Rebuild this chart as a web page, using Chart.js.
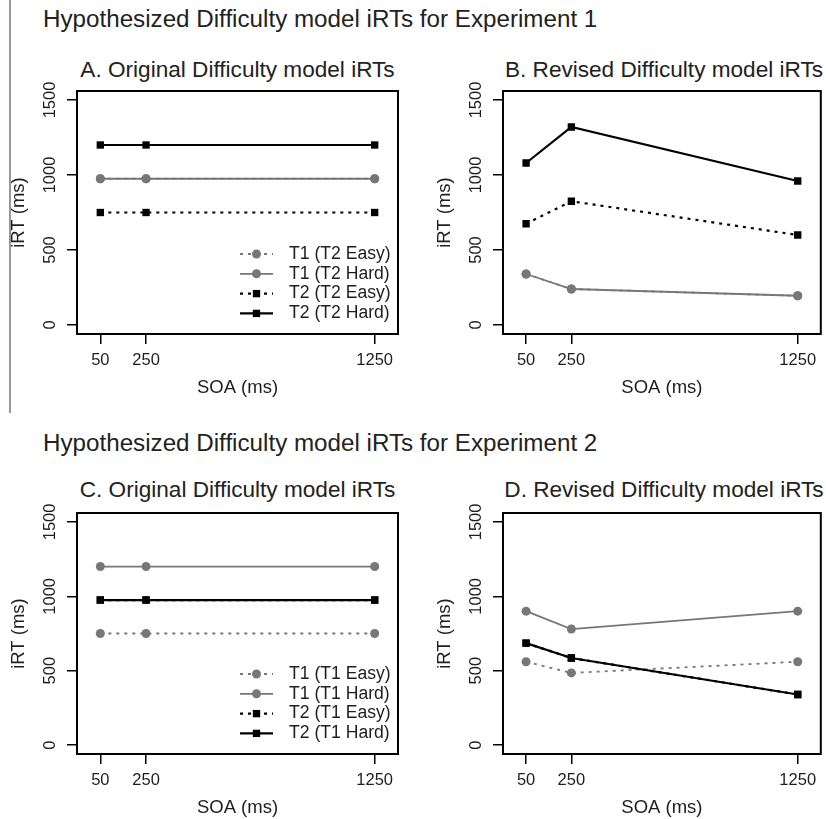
<!DOCTYPE html>
<html>
<head>
<meta charset="utf-8">
<script src="https://cdn.jsdelivr.net/npm/chart.js@4.4.1/dist/chart.umd.min.js"></script>
<style>
  body { margin: 0; background: #fff; width: 826px; height: 819px; position: relative; overflow: hidden;
         font-family: "Liberation Sans", Arial, sans-serif; color: #222; }
  .main { position: absolute; left: 43px; font-size: 24.2px; line-height: 28px; white-space: nowrap; }
  .sub { position: absolute; font-size: 22.6px; line-height: 26px; text-align: center; white-space: nowrap; }
  canvas { position: absolute; }
  #edge { position: absolute; left: 9px; top: 0; width: 2px; height: 413px; background: #999; }
</style>
</head>
<body>
<div id="edge"></div>
<div class="main" style="top:5px">Hypothesized Difficulty model iRTs for Experiment 1</div>
<div class="main" style="top:429px">Hypothesized Difficulty model iRTs for Experiment 2</div>
<div class="sub" style="left:77px;width:321px;top:57px">A. Original Difficulty model iRTs</div>
<div class="sub" style="left:503px;width:322px;top:57px">B. Revised Difficulty model iRTs</div>
<div class="sub" style="left:77px;width:321px;top:477px">C. Original Difficulty model iRTs</div>
<div class="sub" style="left:503px;width:322px;top:477px">D. Revised Difficulty model iRTs</div>

<canvas id="chartA" width="410" height="324" style="left:0;top:75px"></canvas>
<canvas id="chartB" width="400" height="324" style="left:426px;top:75px"></canvas>
<canvas id="chartC" width="410" height="322" style="left:0;top:497px"></canvas>
<canvas id="chartD" width="400" height="322" style="left:426px;top:497px"></canvas>

<script>
// SOA conditions (x) and axis ticks
const soa = [50, 250, 1250];
const yTicks = [0, 500, 1000, 1500];

// legend labels
const exp1Labels = ['T1 (T2 Easy)', 'T1 (T2 Hard)', 'T2 (T2 Easy)', 'T2 (T2 Hard)'];
const exp2Labels = ['T1 (T1 Easy)', 'T1 (T1 Hard)', 'T2 (T1 Easy)', 'T2 (T1 Hard)'];

// A. Experiment 1, original model
const aT1Easy = [975, 975, 975];
const aT1Hard = [975, 975, 975];
const aT2Easy = [750, 750, 750];
const aT2Hard = [1200, 1200, 1200];

// B. Experiment 1, revised model
const bT1Easy = [340, 240, 195];
const bT1Hard = [340, 240, 195];
const bT2Easy = [675, 825, 600];
const bT2Hard = [1080, 1320, 960];

// C. Experiment 2, original model
const cT1Easy = [750, 750, 750];
const cT1Hard = [1200, 1200, 1200];
const cT2Easy = [975, 975, 975];
const cT2Hard = [975, 975, 975];

// D. Experiment 2, revised model
const dT1Easy = [560, 485, 560];
const dT1Hard = [900, 780, 900];
const dT2Easy = [685, 585, 340];
const dT2Hard = [685, 585, 340];

const GRAY = '#777';
const INK = '#1e1e1e';
const FONT = '"Liberation Sans", Arial, sans-serif';

// line look per series (order: lower = drawn on top)
const looks = [
  { color: GRAY, dash: [3, 5], width: 1.8, point: 'circle', radius: 4.5, order: 3 },
  { color: GRAY, dash: [], width: 1.8, point: 'circle', radius: 4.5, order: 2 },
  { color: '#000', dash: [3, 5], width: 2.2, point: 'rect', radius: 5.2, order: 1 },
  { color: '#000', dash: [], width: 2.2, point: 'rect', radius: 5.2, order: 0 }
];

function makeDatasets(labels, series) {
  return series.map((vals, i) => {
    const lk = looks[i];
    return {
      label: labels[i],
      data: soa.map((x, j) => ({ x: x, y: vals[j] })),
      borderColor: lk.color,
      backgroundColor: lk.color,
      borderDash: lk.dash,
      borderWidth: lk.width,
      pointStyle: lk.point,
      pointRadius: lk.radius,
      pointBorderWidth: 0,
      pointBackgroundColor: lk.color,
      order: lk.order,
      tension: 0
    };
  });
}

// box around the plot, rotated y tick labels (R style) and legend inside plot
const framePlugin = {
  id: 'frame',
  afterDraw(chart, args, opts) {
    const ctx = chart.ctx;
    const a = chart.chartArea;
    ctx.save();
    ctx.strokeStyle = '#000';
    ctx.lineWidth = 2;
    ctx.strokeRect(a.left, a.top, a.right - a.left, a.bottom - a.top);

    const ys = chart.scales.y;
    ctx.font = '16.5px ' + FONT;
    ctx.fillStyle = INK;
    ctx.textAlign = 'center';
    ctx.textBaseline = 'middle';
    ys.ticks.forEach(t => {
      ctx.save();
      ctx.translate(a.left - 27, ys.getPixelForValue(t.value));
      ctx.rotate(-Math.PI / 2);
      ctx.fillText(String(t.value), 0, 0);
      ctx.restore();
    });

    if (opts.show) {
      ctx.font = '17.6px ' + FONT;
      ctx.textAlign = 'left';
      chart.data.datasets.forEach((ds, i) => {
        const y = a.bottom - 80 + i * 19.8;
        const x0 = a.right - 158, x1 = a.right - 125, cx = (x0 + x1) / 2;
        ctx.strokeStyle = ds.borderColor;
        ctx.lineWidth = ds.borderWidth;
        ctx.setLineDash(ds.borderDash);
        ctx.beginPath();
        ctx.moveTo(x0, y);
        ctx.lineTo(x1, y);
        ctx.stroke();
        ctx.setLineDash([]);
        ctx.fillStyle = ds.borderColor;
        if (ds.pointStyle === 'circle') {
          ctx.beginPath();
          ctx.arc(cx, y, ds.pointRadius, 0, Math.PI * 2);
          ctx.fill();
        } else {
          const s = ds.pointRadius / Math.SQRT2;
          ctx.fillRect(cx - s, y - s, 2 * s, 2 * s);
        }
        ctx.fillStyle = INK;
        ctx.fillText(ds.label, a.right - 109, y);
      });
    }
    ctx.restore();
  }
};

function makeChart(id, labels, series, showLegend, padRight) {
  new Chart(document.getElementById(id), {
    type: 'line',
    data: { datasets: makeDatasets(labels, series) },
    options: {
      responsive: false,
      animation: false,
      layout: { padding: { top: 16, right: padRight, left: 0, bottom: 0 } },
      plugins: {
        legend: { display: false },
        tooltip: { enabled: false },
        frame: { show: showLegend }
      },
      scales: {
        x: {
          type: 'linear',
          min: -52,
          max: 1352,
          afterBuildTicks: s => { s.ticks = soa.map(v => ({ value: v })); },
          afterFit: s => { s.height = 65; s.paddingLeft = 0; s.paddingRight = 0; },
          ticks: { callback: v => String(v), font: { size: 16.5, family: FONT }, color: INK, padding: 6.5, maxRotation: 0, autoSkip: false },
          grid: { drawOnChartArea: false, tickLength: 10, color: '#000', lineWidth: 1.5 },
          border: { display: false },
          title: { display: true, text: 'SOA (ms)', font: { size: 18.5, family: FONT }, color: INK, padding: { top: 0, bottom: 0 } }
        },
        y: {
          min: -60,
          max: 1560,
          afterBuildTicks: s => { s.ticks = yTicks.map(v => ({ value: v })); },
          afterFit: s => { s.width = 77; s.paddingTop = 0; s.paddingBottom = 0; },
          ticks: { display: false },
          grid: { drawOnChartArea: false, tickLength: 10, color: '#000', lineWidth: 1.5 },
          border: { display: false },
          title: { display: true, text: 'iRT (ms)', font: { size: 18.5, family: FONT }, color: INK, padding: { top: 8, bottom: 0 } }
        }
      }
    },
    plugins: [framePlugin]
  });
}

makeChart('chartA', exp1Labels, [aT1Easy, aT1Hard, aT2Easy, aT2Hard], true, 12);
makeChart('chartB', exp1Labels, [bT1Easy, bT1Hard, bT2Easy, bT2Hard], false, 1);
makeChart('chartC', exp2Labels, [cT1Easy, cT1Hard, cT2Easy, cT2Hard], true, 12);
makeChart('chartD', exp2Labels, [dT1Easy, dT1Hard, dT2Easy, dT2Hard], false, 1);
</script>
</body>
</html>
